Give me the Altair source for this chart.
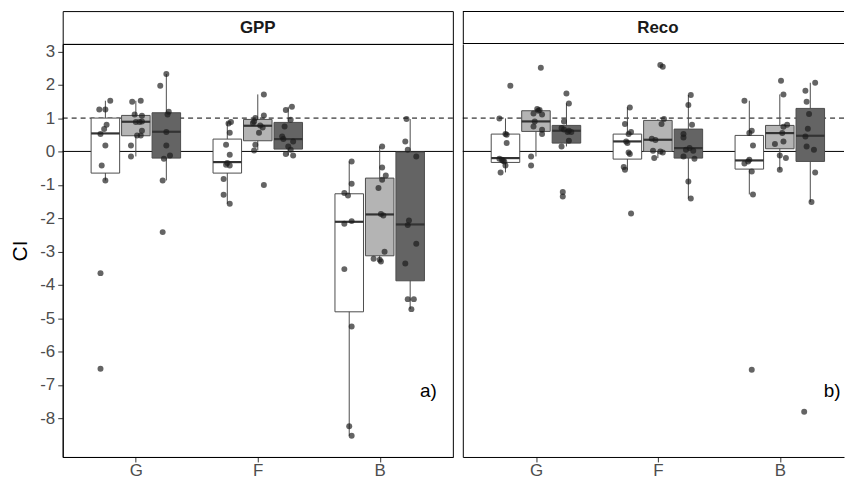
import altair as alt
import pandas as pd

# ---------------- data ----------------
panels = ["GPP", "Reco"]
categories = ["G", "F", "B"]
treatments = ["T1", "T2", "T3"]
treatment_fills = ["#FFFFFF", "#B4B4B4", "#646464"]
panel_tags = ["a)", "b)"]
tag_x = [3.40, 3.43]
tag_y = [-7.2, -7.2]
ref_solid = [0]
ref_dashed = [1]
y_ticks = [3, 2, 1, 0, -1, -2, -3, -4, -5, -6, -7, -8]

# box statistics, order: GPP G/F/B x T1/T2/T3, then Reco G/F/B x T1/T2/T3
box_q1 = [-0.65, 0.47, -0.20, -0.65, 0.32, 0.07, -4.81, -3.13, -3.88,
          -0.33, 0.60, 0.25, -0.23, 0.00, -0.20, -0.53, 0.08, -0.30]
box_median = [0.54, 0.89, 0.59, -0.32, 0.77, 0.37, -2.11, -1.89, -2.19,
              -0.20, 0.90, 0.62, 0.30, 0.35, 0.10, -0.27, 0.55, 0.47]
box_q3 = [1.00, 1.08, 1.16, 0.37, 0.96, 0.87, -1.27, -0.80, -0.02,
          0.52, 1.22, 0.78, 0.52, 0.93, 0.67, 0.48, 0.78, 1.29]
box_lo = [-0.87, -0.15, -0.87, -1.57, 0.03, -0.12, -8.53, -3.30, -4.73,
          -0.63, -0.15, 0.15, -0.55, -0.20, -1.41, -1.29, -0.55, -1.52]
box_hi = [1.52, 1.52, 2.32, 0.88, 1.71, 1.34, -0.30, 0.15, 0.97,
          0.99, 1.27, 1.44, 1.32, 0.97, 1.69, 1.52, 1.71, 2.06]

# individual observations (CI) and their horizontal jitter (category units)
gpp_G_T1 = [1.52, 1.26, 1.26, 0.80, 0.67, 0.52, 0.18, -0.42, -0.87, -3.65, -6.52]
gpp_G_T1_dx = [0.04, -0.05, 0.0, 0.01, -0.01, -0.04, 0.0, -0.03, 0.0, -0.04, -0.04]
gpp_G_T2 = [1.49, 1.52, 1.11, 1.07, 0.88, 0.90, 0.88, 0.62, 0.48, 0.48, 0.18, -0.15]
gpp_G_T2_dx = [-0.03, 0.04, -0.01, 0.05, 0.0, 0.05, 0.03, 0.05, 0.01, 0.04, -0.04, -0.04]
gpp_G_T3 = [2.32, 1.97, 1.19, 1.11, 0.58, 0.18, -0.12, -0.22, -0.87, -2.42]
gpp_G_T3_dx = [0.0, -0.05, 0.02, 0.01, 0.0, 0.0, 0.03, -0.02, -0.03, -0.03]
gpp_F_T1 = [0.88, 0.84, 0.56, 0.20, -0.10, -0.35, -0.40, -0.42, -0.83, -1.30, -1.57]
gpp_F_T1_dx = [0.03, 0.01, 0.02, -0.01, 0.02, 0.0, -0.01, 0.02, -0.03, -0.03, 0.02]
gpp_F_T2 = [1.71, 1.08, 1.00, 0.90, 0.85, 0.78, 0.72, 0.56, 0.20, 0.03, -1.01]
gpp_F_T2_dx = [0.05, 0.05, -0.02, -0.03, -0.04, 0.02, 0.04, 0.01, -0.02, -0.03, 0.05]
gpp_F_T3 = [1.34, 1.24, 0.95, 0.75, 0.45, 0.37, 0.30, 0.15, 0.05, -0.08, -0.12]
gpp_F_T3_dx = [0.03, -0.02, 0.02, -0.03, -0.05, -0.04, 0.04, 0.0, 0.02, -0.02, 0.04]
gpp_B_T1 = [-0.30, -0.97, -1.25, -1.32, -2.09, -2.17, -3.53, -5.25, -8.24, -8.53]
gpp_B_T1_dx = [0.02, 0.02, -0.04, -0.01, 0.02, -0.04, -0.04, 0.02, 0.0, 0.02]
gpp_B_T2 = [0.15, -0.48, -0.72, -0.85, -1.10, -1.88, -1.92, -3.01, -3.22, -3.25, -3.30]
gpp_B_T2_dx = [0.02, 0.02, 0.05, 0.02, -0.01, 0.01, 0.03, 0.04, -0.05, 0.0, 0.01]
gpp_B_T3 = [0.97, 0.30, 0.05, -0.15, -2.07, -2.21, -2.77, -3.36, -4.43, -4.43, -4.73]
gpp_B_T3_dx = [-0.03, -0.04, -0.02, 0.05, -0.01, -0.02, 0.05, -0.04, -0.02, 0.03, 0.01]

reco_G_T1 = [1.97, 0.99, 0.52, 0.50, 0.25, -0.22, -0.25, -0.28, -0.30, -0.42, -0.63]
reco_G_T1_dx = [0.04, -0.05, 0.0, 0.01, 0.01, -0.05, -0.03, -0.02, -0.01, 0.0, -0.04]
reco_G_T2 = [2.51, 1.27, 1.24, 1.22, 1.14, 1.11, 0.90, 0.75, 0.65, 0.52, -0.15, -0.42]
reco_G_T2_dx = [0.04, 0.01, 0.03, 0.02, -0.02, 0.05, -0.01, -0.02, 0.05, 0.05, -0.04, -0.04]
reco_G_T3 = [1.74, 1.44, 0.90, 0.70, 0.66, 0.62, 0.58, 0.58, 0.32, 0.15, -1.22, -1.35]
reco_G_T3_dx = [0.0, 0.02, -0.02, -0.04, -0.02, 0.02, 0.01, 0.04, 0.02, -0.04, -0.03, -0.03]
reco_F_T1 = [1.32, 0.82, 0.58, 0.52, 0.30, 0.25, -0.03, -0.08, -0.47, -0.55, -1.86]
reco_F_T1_dx = [0.02, -0.02, 0.03, 0.01, -0.01, 0.0, 0.01, 0.02, -0.03, -0.02, 0.03]
reco_F_T2 = [2.59, 2.54, 0.97, 0.82, 0.38, 0.34, 0.02, 0.00, -0.03, -0.20]
reco_F_T2_dx = [0.02, 0.04, 0.05, 0.03, -0.05, -0.02, -0.04, 0.02, 0.04, -0.03]
reco_F_T3 = [1.69, 1.39, 0.80, 0.52, 0.42, 0.10, 0.05, 0.02, -0.15, -0.22, -0.90, -1.41]
reco_F_T3_dx = [0.02, 0.0, 0.03, -0.04, -0.04, 0.01, -0.02, 0.04, -0.04, 0.05, 0.0, 0.02]
reco_B_T1 = [1.52, 0.62, 0.55, 0.18, -0.25, -0.30, -0.36, -0.60, -1.29, -6.55]
reco_B_T1_dx = [-0.04, 0.02, 0.0, 0.03, 0.0, -0.01, -0.04, 0.02, 0.03, 0.02]
reco_B_T2 = [2.12, 1.71, 0.80, 0.74, 0.55, 0.30, 0.22, -0.12, -0.20, -0.55]
reco_B_T2_dx = [0.01, 0.03, 0.06, 0.03, 0.02, 0.03, -0.04, 0.0, 0.05, 0.0]
reco_B_T3 = [2.06, 1.82, 1.49, 1.12, 0.68, 0.45, 0.15, 0.05, -0.63, -1.52, -7.81]
reco_B_T3_dx = [0.04, -0.04, -0.03, -0.01, -0.02, -0.04, -0.03, 0.03, 0.04, 0.01, -0.05]

observations = {
    ("GPP", "G", "T1"): (gpp_G_T1, gpp_G_T1_dx), ("GPP", "G", "T2"): (gpp_G_T2, gpp_G_T2_dx),
    ("GPP", "G", "T3"): (gpp_G_T3, gpp_G_T3_dx), ("GPP", "F", "T1"): (gpp_F_T1, gpp_F_T1_dx),
    ("GPP", "F", "T2"): (gpp_F_T2, gpp_F_T2_dx), ("GPP", "F", "T3"): (gpp_F_T3, gpp_F_T3_dx),
    ("GPP", "B", "T1"): (gpp_B_T1, gpp_B_T1_dx), ("GPP", "B", "T2"): (gpp_B_T2, gpp_B_T2_dx),
    ("GPP", "B", "T3"): (gpp_B_T3, gpp_B_T3_dx),
    ("Reco", "G", "T1"): (reco_G_T1, reco_G_T1_dx), ("Reco", "G", "T2"): (reco_G_T2, reco_G_T2_dx),
    ("Reco", "G", "T3"): (reco_G_T3, reco_G_T3_dx), ("Reco", "F", "T1"): (reco_F_T1, reco_F_T1_dx),
    ("Reco", "F", "T2"): (reco_F_T2, reco_F_T2_dx), ("Reco", "F", "T3"): (reco_F_T3, reco_F_T3_dx),
    ("Reco", "B", "T1"): (reco_B_T1, reco_B_T1_dx), ("Reco", "B", "T2"): (reco_B_T2, reco_B_T2_dx),
    ("Reco", "B", "T3"): (reco_B_T3, reco_B_T3_dx),
}

# ---------------- tables ----------------
DODGE = 0.25
HALF_BOX = 0.117
box_rows, pt_rows = [], []
k = 0
for p in panels:
    for ci, c in enumerate(categories):
        for ti, t in enumerate(treatments):
            pos = ci + 1 + (ti - 1) * DODGE
            box_rows.append(dict(panel=p, cat=c, treat=t, pos=pos,
                                 left=pos - HALF_BOX, right=pos + HALF_BOX,
                                 q1=box_q1[k], median=box_median[k], q3=box_q3[k],
                                 lo=box_lo[k], hi=box_hi[k]))
            k += 1
            vals, dxs = observations[(p, c, t)]
            for v, dx in zip(vals, dxs):
                pt_rows.append(dict(panel=p, cat=c, treat=t, x=pos + dx, ci_value=v))
boxes = pd.DataFrame(box_rows)
points = pd.DataFrame(pt_rows)

FONT = "Liberation Sans"
Y_MIN, Y_MAX = -9.164, 3.224
PANEL_H = 415
STRIP_H = 33
FULL_W = 392


def make_panel(pi, width, xmax, left):
    p = panels[pi]
    xs = alt.Scale(domain=[0.4, xmax], nice=False, zero=False)
    ys = alt.Scale(domain=[Y_MIN, Y_MAX], nice=False, zero=False)
    xaxis = alt.Axis(values=[1, 2, 3],
                     labelExpr="datum.value == 1 ? 'G' : datum.value == 2 ? 'F' : 'B'",
                     title=None, grid=False, tickSize=5, tickColor="#333333",
                     labelColor="#4D4D4D", labelFontSize=17, labelFont=FONT,
                     labelPadding=1, domainColor="black")
    if left:
        yaxis = alt.Axis(values=y_ticks, labelExpr="toString(datum.value)", title="CI",
                         grid=False, tickSize=5, tickColor="#333333", labelColor="#4D4D4D",
                         labelFontSize=17, labelFont=FONT, labelPadding=3,
                         titleFont=FONT, titleFontSize=21, titleFontWeight="normal",
                         titleColor="black", titlePadding=2, minExtent=30, maxExtent=30,
                         domainColor="black")
    else:
        yaxis = alt.Axis(labels=False, ticks=False, title=None, grid=False,
                         domainColor="black", minExtent=0, maxExtent=0)

    bsub = boxes[boxes.panel == p]
    psub = points[points.panel == p]

    solid = alt.Chart(pd.DataFrame({"y": ref_solid})).mark_rule(
        color="black", strokeWidth=1).encode(y=alt.Y("y:Q", scale=ys, axis=yaxis))
    dashed = alt.Chart(pd.DataFrame({"y": ref_dashed})).mark_rule(
        color="black", strokeWidth=1, strokeDash=[5, 4]).encode(
        y=alt.Y("y:Q", scale=ys, axis=yaxis))
    whisk = alt.Chart(bsub).mark_rule(color="#4D4D4D", strokeWidth=1).encode(
        x=alt.X("pos:Q", scale=xs, axis=xaxis),
        y=alt.Y("lo:Q", scale=ys, axis=yaxis), y2="hi:Q")
    rect = alt.Chart(bsub).mark_rect(stroke="#4D4D4D", strokeWidth=1).encode(
        x=alt.X("left:Q", scale=xs, axis=xaxis), x2="right:Q",
        y=alt.Y("q1:Q", scale=ys, axis=yaxis), y2="q3:Q",
        fill=alt.Fill("treat:N", scale=alt.Scale(domain=treatments, range=treatment_fills),
                      legend=None))
    med = alt.Chart(bsub).mark_rule(color="#333333", strokeWidth=2.2).encode(
        x=alt.X("left:Q", scale=xs, axis=xaxis), x2="right:Q",
        y=alt.Y("median:Q", scale=ys, axis=yaxis))
    pts = alt.Chart(psub).mark_circle(size=36, color="#1A1A1A", opacity=0.68).encode(
        x=alt.X("x:Q", scale=xs, axis=xaxis),
        y=alt.Y("ci_value:Q", scale=ys, axis=yaxis))
    tag = alt.Chart(pd.DataFrame({"tx": [tag_x[pi]], "ty": [tag_y[pi]],
                                  "t": [panel_tags[pi]]})).mark_text(
        font=FONT, fontSize=19, color="black").encode(
        x=alt.X("tx:Q", scale=xs, axis=xaxis), y=alt.Y("ty:Q", scale=ys, axis=yaxis),
        text="t:N")
    layer = alt.layer(solid, dashed, whisk, rect, med, pts, tag)
    if left:
        return layer.properties(width=width, height=PANEL_H)
    return layer.properties(width=width, height=PANEL_H,
                            view=alt.ViewBackground(stroke="transparent"))


def make_strip(pi, width, cropped):
    base = alt.Chart(pd.DataFrame({"label": [panels[pi]]}))
    text = base.mark_text(font=FONT, fontSize=17, fontWeight="bold", color="#1A1A1A").encode(
        text="label:N", x=alt.value(FULL_W / 2), y=alt.value(STRIP_H / 2 + 1))
    if cropped:
        frame = base.mark_rect(clip=True, fill="white", stroke="black", strokeWidth=2).encode(
            x=alt.value(0), x2=alt.value(FULL_W), y=alt.value(0), y2=alt.value(STRIP_H))
        return alt.layer(frame, text).properties(
            width=width, height=STRIP_H, view=alt.ViewBackground(stroke="transparent"))
    return text.properties(width=width, height=STRIP_H)


RIGHT_W = 383
left_col = alt.vconcat(make_strip(0, FULL_W, False), make_panel(0, FULL_W, 3.6, True),
                       spacing=0, bounds="flush")
right_col = alt.vconcat(make_strip(1, RIGHT_W, True),
                        make_panel(1, RIGHT_W, 0.4 + RIGHT_W * 3.2 / FULL_W, False),
                        spacing=0, bounds="flush")

chart = alt.hconcat(left_col, right_col, spacing=8).properties(
    padding={"left": 9, "top": 9, "right": 0, "bottom": 0},
    background="white",
).configure_view(stroke="black", strokeWidth=1)

chart.save("out.html", embed_options={"renderer": "svg", "actions": False})
